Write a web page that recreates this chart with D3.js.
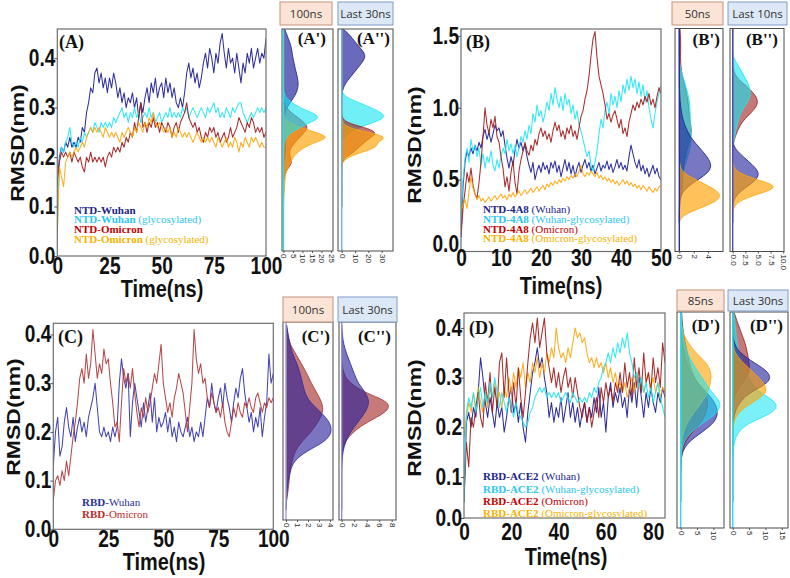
<!DOCTYPE html>
<html><head><meta charset="utf-8">
<script src="https://cdn.jsdelivr.net/npm/d3@7"></script>
<style>body{margin:0;background:#fff}svg{display:block}</style>
</head><body>
<svg id="c" width="790" height="578"></svg>
<script>
// ---------------- DATA ----------------
// Panel A : NTD, 0-100 ns
const timeA = d3.range(0, 101, 1);
const ntdWuhan = [0.14,0.20,0.22,0.21,0.23,0.22,0.24,0.22,0.23,0.22,0.24,0.23,0.26,0.25,0.29,0.31,0.34,0.33,0.37,0.38,0.35,0.37,0.34,0.36,0.33,0.36,0.34,0.37,0.35,0.32,0.34,0.31,0.33,0.30,0.32,0.31,0.33,0.30,0.32,0.28,0.31,0.29,0.32,0.34,0.31,0.35,0.33,0.36,0.32,0.34,0.35,0.32,0.36,0.33,0.35,0.32,0.34,0.31,0.30,0.32,0.30,0.33,0.37,0.39,0.36,0.38,0.35,0.37,0.34,0.36,0.39,0.41,0.38,0.42,0.40,0.37,0.41,0.39,0.43,0.45,0.41,0.38,0.42,0.39,0.40,0.37,0.41,0.38,0.35,0.39,0.37,0.41,0.39,0.42,0.38,0.40,0.42,0.39,0.41,0.40,0.44];
const ntdWuhanGly = [0.05,0.19,0.22,0.21,0.23,0.24,0.26,0.23,0.22,0.23,0.22,0.24,0.23,0.25,0.24,0.25,0.26,0.25,0.27,0.26,0.25,0.27,0.26,0.27,0.26,0.27,0.26,0.28,0.27,0.28,0.29,0.30,0.28,0.29,0.27,0.29,0.28,0.30,0.28,0.29,0.27,0.28,0.29,0.28,0.30,0.28,0.29,0.27,0.28,0.29,0.27,0.28,0.29,0.28,0.30,0.28,0.29,0.28,0.29,0.28,0.30,0.29,0.30,0.28,0.29,0.30,0.29,0.28,0.29,0.30,0.29,0.28,0.30,0.29,0.30,0.31,0.29,0.30,0.28,0.29,0.28,0.30,0.29,0.28,0.30,0.29,0.30,0.31,0.31,0.29,0.28,0.27,0.28,0.29,0.28,0.29,0.30,0.29,0.30,0.29,0.30];
const ntdOmicron = [0.15,0.19,0.21,0.20,0.21,0.20,0.21,0.19,0.21,0.20,0.19,0.20,0.18,0.17,0.20,0.19,0.21,0.19,0.20,0.19,0.20,0.19,0.20,0.18,0.20,0.21,0.20,0.22,0.21,0.22,0.21,0.23,0.22,0.24,0.23,0.25,0.24,0.27,0.25,0.28,0.31,0.26,0.27,0.25,0.27,0.26,0.28,0.26,0.27,0.25,0.27,0.26,0.25,0.27,0.26,0.24,0.26,0.27,0.25,0.27,0.28,0.29,0.31,0.28,0.27,0.26,0.27,0.25,0.26,0.24,0.23,0.25,0.24,0.26,0.25,0.26,0.24,0.25,0.23,0.24,0.25,0.23,0.24,0.26,0.24,0.25,0.26,0.28,0.27,0.26,0.25,0.27,0.26,0.28,0.27,0.25,0.26,0.25,0.26,0.24,0.25];
const ntdOmicronGly = [0.04,0.18,0.16,0.14,0.19,0.20,0.21,0.20,0.21,0.22,0.21,0.22,0.23,0.22,0.24,0.25,0.26,0.25,0.26,0.25,0.26,0.25,0.24,0.26,0.25,0.24,0.25,0.24,0.25,0.24,0.23,0.25,0.24,0.25,0.26,0.25,0.24,0.26,0.25,0.27,0.26,0.25,0.27,0.26,0.28,0.27,0.29,0.27,0.26,0.27,0.26,0.25,0.26,0.25,0.26,0.24,0.25,0.24,0.26,0.25,0.24,0.25,0.24,0.25,0.24,0.23,0.24,0.25,0.24,0.23,0.24,0.23,0.24,0.23,0.24,0.23,0.22,0.24,0.23,0.22,0.23,0.24,0.22,0.23,0.22,0.24,0.23,0.21,0.23,0.22,0.24,0.23,0.22,0.24,0.23,0.24,0.23,0.22,0.23,0.22,0.22];

// Panel B : NTD-4A8, 0-50 ns
const timeB = d3.range(0, 50.25, 0.5);
const n4a8Wuhan = [0.10,0.45,0.62,0.70,0.66,0.72,0.68,0.74,0.70,0.76,0.72,0.80,0.85,0.78,0.83,0.76,0.82,0.88,0.84,0.86,0.80,0.84,0.74,0.65,0.58,0.66,0.60,0.70,0.78,0.72,0.76,0.70,0.74,0.66,0.60,0.55,0.62,0.50,0.56,0.60,0.55,0.62,0.57,0.60,0.54,0.62,0.58,0.63,0.55,0.60,0.52,0.58,0.64,0.56,0.62,0.54,0.60,0.52,0.58,0.62,0.55,0.60,0.64,0.58,0.62,0.56,0.60,0.54,0.58,0.62,0.56,0.60,0.58,0.63,0.57,0.61,0.55,0.59,0.64,0.58,0.62,0.57,0.60,0.56,0.66,0.74,0.68,0.62,0.58,0.64,0.56,0.60,0.54,0.58,0.52,0.56,0.60,0.54,0.58,0.52,0.50];
const n4a8WuhanGly = [0.20,0.50,0.65,0.72,0.62,0.78,0.70,0.74,0.66,0.72,0.60,0.68,0.58,0.66,0.62,0.70,0.60,0.56,0.64,0.58,0.66,0.72,0.68,0.78,0.70,0.75,0.68,0.74,0.66,0.72,0.80,0.76,0.84,0.78,0.88,0.82,0.96,0.90,1.02,0.94,0.98,0.90,0.96,1.04,0.98,1.10,1.02,1.14,1.06,1.00,1.08,0.98,1.10,1.02,1.06,0.96,1.02,0.92,0.98,0.88,0.84,0.78,0.72,0.66,0.70,0.60,0.56,0.62,0.70,0.82,0.92,0.86,0.98,1.04,0.96,1.10,1.02,1.08,1.00,1.12,1.04,1.16,1.10,1.20,1.12,1.22,1.14,1.20,1.10,1.18,1.08,1.16,1.04,1.12,1.00,0.92,0.86,0.96,1.04,1.10,1.16];
const n4a8Omicron = [0.10,0.30,0.42,0.55,0.48,0.58,0.46,0.40,0.37,0.48,0.62,0.80,1.00,0.88,0.82,0.92,0.86,0.94,0.80,0.76,0.66,0.58,0.45,0.52,0.42,0.55,0.63,0.48,0.40,0.56,0.64,0.70,0.76,0.70,0.67,0.74,0.70,0.78,0.74,0.82,0.86,0.80,0.84,0.78,0.82,0.76,0.84,0.90,0.84,0.88,0.80,0.84,0.78,0.86,0.82,0.88,0.80,0.84,0.78,0.86,0.94,0.98,1.06,1.12,1.22,1.36,1.48,1.53,1.35,1.22,1.16,1.10,1.02,0.92,0.96,0.90,0.95,0.98,0.92,0.86,0.92,0.82,0.86,0.80,0.90,0.96,1.02,0.98,1.04,1.00,1.06,1.02,1.08,1.04,1.10,1.02,1.06,1.00,1.08,1.14,1.10];
const n4a8OmicronGly = [0.28,0.32,0.36,0.30,0.42,0.52,0.44,0.40,0.36,0.39,0.35,0.37,0.34,0.36,0.38,0.35,0.37,0.39,0.36,0.38,0.40,0.37,0.39,0.36,0.40,0.38,0.41,0.38,0.40,0.42,0.39,0.41,0.43,0.40,0.42,0.44,0.41,0.43,0.45,0.42,0.44,0.46,0.43,0.47,0.45,0.48,0.46,0.49,0.47,0.50,0.48,0.51,0.49,0.52,0.50,0.53,0.51,0.54,0.52,0.56,0.60,0.54,0.52,0.55,0.53,0.56,0.54,0.52,0.55,0.51,0.53,0.50,0.52,0.49,0.51,0.48,0.50,0.47,0.49,0.46,0.48,0.50,0.47,0.49,0.46,0.48,0.45,0.47,0.44,0.46,0.43,0.46,0.44,0.42,0.45,0.43,0.41,0.44,0.42,0.45,0.46];

// Panel C : RBD, 0-100 ns
const timeC = d3.range(0, 101, 1);
const rbdWuhan = [0.13,0.20,0.23,0.15,0.17,0.22,0.25,0.21,0.19,0.23,0.18,0.21,0.23,0.20,0.22,0.19,0.23,0.25,0.27,0.30,0.25,0.20,0.19,0.21,0.19,0.20,0.18,0.21,0.19,0.21,0.30,0.35,0.31,0.29,0.32,0.19,0.26,0.30,0.27,0.24,0.21,0.26,0.22,0.25,0.28,0.22,0.27,0.20,0.23,0.21,0.22,0.24,0.20,0.23,0.19,0.21,0.18,0.22,0.20,0.19,0.21,0.23,0.19,0.21,0.18,0.20,0.19,0.22,0.19,0.23,0.27,0.25,0.30,0.26,0.24,0.27,0.29,0.25,0.30,0.27,0.25,0.22,0.26,0.29,0.27,0.31,0.33,0.28,0.25,0.22,0.24,0.20,0.23,0.21,0.25,0.19,0.23,0.26,0.36,0.30,0.32];
const rbdOmicron = [0.06,0.10,0.11,0.09,0.12,0.10,0.14,0.11,0.15,0.19,0.22,0.26,0.31,0.33,0.30,0.36,0.31,0.34,0.41,0.36,0.31,0.34,0.32,0.37,0.34,0.35,0.30,0.26,0.21,0.22,0.18,0.26,0.33,0.30,0.32,0.29,0.33,0.28,0.24,0.21,0.25,0.23,0.27,0.24,0.26,0.29,0.32,0.30,0.34,0.38,0.30,0.27,0.24,0.26,0.23,0.27,0.29,0.32,0.30,0.28,0.24,0.20,0.25,0.30,0.41,0.35,0.32,0.34,0.30,0.31,0.27,0.25,0.28,0.26,0.24,0.25,0.23,0.26,0.22,0.20,0.19,0.22,0.25,0.23,0.26,0.24,0.23,0.26,0.25,0.27,0.25,0.24,0.27,0.28,0.26,0.24,0.26,0.25,0.27,0.26,0.27];

// Panel D : RBD-ACE2, 0-85 ns
const timeD = d3.range(0, 86, 1);
const aceWuhan = [0.05,0.21,0.23,0.20,0.24,0.22,0.27,0.34,0.30,0.25,0.22,0.26,0.23,0.20,0.25,0.22,0.24,0.19,0.22,0.26,0.28,0.23,0.25,0.21,0.25,0.20,0.17,0.23,0.27,0.31,0.33,0.36,0.32,0.34,0.30,0.27,0.22,0.25,0.21,0.24,0.22,0.26,0.21,0.24,0.27,0.22,0.25,0.21,0.24,0.20,0.23,0.25,0.21,0.24,0.22,0.26,0.23,0.28,0.22,0.25,0.19,0.26,0.29,0.24,0.27,0.25,0.28,0.24,0.26,0.22,0.28,0.25,0.29,0.24,0.30,0.26,0.22,0.27,0.24,0.28,0.25,0.23,0.27,0.25,0.28,0.26];
const aceWuhanGly = [0.05,0.23,0.26,0.24,0.27,0.23,0.26,0.28,0.24,0.27,0.25,0.29,0.26,0.30,0.27,0.24,0.27,0.25,0.23,0.26,0.24,0.22,0.25,0.23,0.22,0.21,0.20,0.21,0.23,0.24,0.26,0.27,0.28,0.27,0.28,0.26,0.27,0.26,0.27,0.26,0.27,0.25,0.26,0.27,0.26,0.25,0.27,0.26,0.25,0.26,0.25,0.26,0.25,0.27,0.26,0.28,0.27,0.29,0.30,0.32,0.33,0.35,0.33,0.36,0.34,0.37,0.35,0.38,0.36,0.39,0.35,0.33,0.30,0.31,0.28,0.30,0.27,0.29,0.26,0.28,0.25,0.27,0.29,0.26,0.24,0.22];
const aceOmicron = [0.05,0.17,0.12,0.22,0.20,0.24,0.27,0.22,0.20,0.29,0.25,0.31,0.23,0.28,0.24,0.33,0.35,0.26,0.34,0.27,0.23,0.29,0.24,0.32,0.26,0.22,0.27,0.33,0.38,0.41,0.37,0.42,0.36,0.39,0.42,0.35,0.32,0.29,0.32,0.28,0.31,0.27,0.30,0.32,0.28,0.30,0.26,0.30,0.27,0.24,0.22,0.25,0.21,0.24,0.20,0.23,0.26,0.22,0.28,0.25,0.29,0.26,0.28,0.25,0.29,0.27,0.31,0.27,0.33,0.28,0.31,0.26,0.34,0.28,0.32,0.27,0.35,0.29,0.31,0.27,0.34,0.29,0.32,0.28,0.37,0.33];
const aceOmicronGly = [0.18,0.22,0.25,0.23,0.27,0.24,0.28,0.25,0.23,0.27,0.24,0.28,0.26,0.29,0.25,0.27,0.24,0.28,0.26,0.30,0.27,0.31,0.28,0.32,0.30,0.33,0.28,0.31,0.29,0.33,0.31,0.34,0.30,0.33,0.31,0.35,0.33,0.36,0.34,0.40,0.36,0.34,0.35,0.33,0.36,0.34,0.37,0.40,0.38,0.39,0.37,0.38,0.35,0.33,0.34,0.32,0.34,0.32,0.33,0.31,0.33,0.30,0.32,0.29,0.31,0.28,0.29,0.27,0.29,0.26,0.28,0.30,0.27,0.31,0.28,0.30,0.27,0.29,0.31,0.28,0.30,0.27,0.29,0.26,0.28,0.27];

// Density distributions (RMSD grid -> density)
const gridA = [0.10,0.11,0.12,0.13,0.14,0.15,0.16,0.17,0.18,0.19,0.20,0.21,0.22,0.23,0.24,0.25,0.26,0.27,0.28,0.29,0.30,0.31,0.32,0.33,0.34,0.35,0.36,0.37,0.38,0.39,0.40,0.41,0.42,0.43,0.44,0.45,0.46];
const aFullWuhan = [0,0,0,0,0,0,0,0,0.05,0.2,0.6,1.0,1.2,0.9,0.6,0.4,0.3,0.3,0.4,0.8,1.8,3.5,5.3,6.8,7.6,7.8,7.4,6.8,6.1,5.6,5.0,4.6,4.2,3.5,2.5,1.5,0.5];
const aFullWuhanGly = [0,0,0,0,0,0,0,0,0,0,0,0,0.2,0.5,1.5,4.0,9,14,19.8,15,8.5,4.5,1.2,0.2,0,0,0,0,0,0,0,0,0,0,0,0,0];
const aFullOmicron = [0,0,0,0,0,0.1,0.4,1.0,3.0,4.5,3.5,3.0,4.0,6.0,8.5,11,13,11,7.5,4.0,1.5,0.3,0,0,0,0,0,0,0,0,0,0,0,0,0,0,0];
const aFullOmicronGly = [0,0,0.1,0.4,0.6,0.7,0.9,1.4,2.5,3.8,5.0,7.5,11,17,24.5,17,9,3,0.3,0,0,0,0,0,0,0,0,0,0,0,0,0,0,0,0,0,0];
const aLastWuhan = [0,0,0,0,0,0,0,0,0,0,0,0,0,0,0,0,0,0,0,0,0,0,0,0.3,1.2,3,6,9,12,15,17.5,17.3,14,11,8,5,0.5];
const aLastWuhanGly = [0,0,0,0,0,0,0,0,0,0,0,0,0,0.4,2,6,13,24,33,30,22,13,4,0.2,0,0,0,0,0,0,0,0,0,0,0,0,0];
const aLastOmicron = [0,0,0,0,0,0,0,0,0,0.4,3,9,13,17,22,27,17,3,0.3,0,0,0,0,0,0,0,0,0,0,0,0,0,0,0,0,0,0];
const aLastOmicronGly = [0,0,0,0,0,0,0,0,0,0.5,5,15,27,26,35,20,4,0.5,0,0,0,0,0,0,0,0,0,0,0,0,0,0,0,0,0,0,0];

const gridB = [0.20,0.25,0.30,0.35,0.40,0.45,0.50,0.55,0.60,0.65,0.70,0.75,0.80,0.85,0.90,0.95,1.00,1.05,1.10,1.15,1.20,1.25,1.30,1.35,1.40,1.45,1.50,1.55];
const bFullWuhan = [0,0,0,0.05,0.3,1.1,2.6,4.1,4.5,4.0,3.2,2.3,1.5,1.0,0.6,0.35,0.2,0.1,0.05,0,0,0,0,0,0,0,0,0];
const bFullWuhanGly = [0,0,0,0,0.05,0.15,0.3,0.5,0.8,1.1,1.4,1.6,1.7,1.6,1.55,1.5,1.5,1.4,1.2,0.9,0.6,0.3,0.05,0,0,0,0,0];
const bFullOmicron = [0,0,0.02,0.1,0.3,0.4,0.45,0.5,0.6,0.8,1.0,1.3,1.6,1.7,1.5,1.4,1.3,1.2,1.0,0.8,0.5,0.3,0.2,0.15,0.2,0.2,0.15,0.1];
const bFullOmicronGly = [0,0.3,2.8,5.3,5.9,4.3,2.3,0.4,0.05,0,0,0,0,0,0,0,0,0,0,0,0,0,0,0,0,0,0,0];
const bLastWuhan = [0,0,0,0.1,0.9,2.8,4.8,5.3,4.0,2.4,0.8,0,0,0,0,0,0,0,0,0,0,0,0,0,0,0,0,0];
const bLastWuhanGly = [0,0,0,0,0,0,0,0,0,0,0,0.1,0.4,0.7,1.0,1.4,2.2,3.2,3.6,3.3,2.6,1.8,1.0,0.1,0,0,0,0];
const bLastOmicron = [0,0,0,0,0,0,0,0,0,0,0,0.1,0.5,1.1,1.8,3.2,4.6,5.1,4.2,2.8,1.0,0.2,0,0,0,0,0,0];
const bLastOmicronGly = [0,0,0.1,1.0,5.0,9.6,4.8,0.8,0.05,0,0,0,0,0,0,0,0,0,0,0,0,0,0,0,0,0,0,0];

const gridC = [0.04,0.06,0.08,0.10,0.12,0.14,0.16,0.18,0.20,0.22,0.24,0.26,0.28,0.30,0.32,0.34,0.36,0.38,0.40,0.42];
const cFullWuhan = [0,0.05,0.1,0.2,0.4,0.7,1.8,3.6,4.2,4.0,3.2,2.2,1.7,1.5,1.3,1.0,0.6,0.35,0.2,0.05];
const cFullOmicron = [0,0.05,0.2,0.3,0.35,0.55,0.8,1.4,2.3,2.9,3.4,3.3,2.8,2.3,1.9,1.4,0.9,0.35,0.15,0.05];
const cLastWuhan = [0,0,0,0,0,0.05,0.2,0.6,1.4,2.6,3.8,4.5,3.9,2.6,2.0,1.4,0.8,0.3,0.1,0];
const cLastOmicron = [0,0,0,0,0,0,0.1,0.5,1.8,4.0,7.2,8.0,3.8,1.2,0.3,0,0,0,0,0];

const gridD = [0.05,0.07,0.09,0.11,0.13,0.15,0.17,0.19,0.21,0.23,0.25,0.27,0.29,0.31,0.33,0.35,0.37,0.39,0.41,0.43];
const dFullWuhan = [0,0,0,0,0.05,0.4,2.2,6.5,10.5,11.5,10.5,8.0,5.0,3.0,1.8,1.0,0.5,0.2,0.1,0];
const dFullWuhanGly = [0,0,0,0,0.05,0.2,0.8,3,7,11.5,12.5,9.5,7.5,5.5,3.5,2.0,1.1,0.6,0.3,0.1];
const dFullOmicron = [0,0,0,0,0.1,0.4,1.2,3.5,6.5,7.8,8.5,7.5,5.0,3.5,2.6,2.0,1.4,0.8,0.5,0.3];
const dFullOmicronGly = [0,0,0,0,0,0.1,0.3,0.8,2.0,4.0,6.5,8.3,9.2,9.4,8.0,4.5,2.3,0.6,0.1,0];
const dLastWuhan = [0,0,0,0,0,0,0,0,0.1,0.6,2,5,11.5,11.5,6.5,2,0.3,0,0,0];
const dLastWuhanGly = [0,0,0,0,0,0.1,0.4,1.5,5,13,14,8,5.5,4.0,2.8,2.0,1.3,1.0,0.7,0.3];
const dLastOmicron = [0,0,0,0,0,0,0,0,0,0,0.2,0.8,3.0,5.2,5.0,4.5,3.8,2.6,1.5,0.5];
const dLastOmicronGly = [0,0,0,0,0,0,0,0,0.3,1.5,6,11,9.5,6.5,3,0.5,0,0,0,0];

// ---------------- DRAWING ----------------
const svg = d3.select("#c");
const SANS = "'Liberation Sans', Arial, sans-serif";
const SERIF = "'Liberation Serif', 'Times New Roman', serif";
const SX = 0.83;
const COL = {navy:"#1e1e94", cyan:"#1fe6f4", red:"#a11b1b", orange:"#ffa60d"};
const FILL = {navy:"#24249c", cyan:"#10e4f2", red:"#9c1e1e", orange:"#ffa000"};

function mainPanel(p) {
  const x = d3.scaleLinear().domain(p.xd).range([p.x0, p.x1]);
  const y = d3.scaleLinear().domain(p.yd).range([p.y1, p.y0]);
  const cid = "clip" + p.name;
  svg.append("clipPath").attr("id", cid).append("rect")
    .attr("x", p.x0).attr("y", p.y0).attr("width", p.x1 - p.x0).attr("height", p.y1 - p.y0);
  const g = svg.append("g").attr("clip-path", `url(#${cid})`);
  p.series.forEach(s => {
    g.append("path").datum(s.v).attr("fill", "none").attr("stroke", s.c)
      .attr("stroke-width", 1.05).attr("stroke-opacity", 0.92).attr("stroke-linejoin", "round")
      .attr("d", d3.line().x((d, i) => x(s.t[i])).y(d => y(d)));
  });
  svg.append("rect").attr("x", p.x0).attr("y", p.y0).attr("width", p.x1 - p.x0).attr("height", p.y1 - p.y0)
    .attr("fill", "none").attr("stroke", "#6e6e6e").attr("stroke-width", 1.2);
  const ya = svg.append("g").attr("transform", `translate(${p.x0},0)`)
    .call(d3.axisLeft(y).tickValues(p.yt).tickFormat(p.yf || d3.format(".1f")).tickSize(3));
  ya.select(".domain").remove();
  ya.selectAll("line").attr("stroke", "#555");
  ya.selectAll("text").attr("x", 0)
    .attr("transform", (d, i) => `translate(-2,${i === 0 ? (p.y0shift || 0) : 0}) scale(${SX},1)`)
    .style("font-family", SANS).style("font-size", "23px").style("font-weight", "bold").attr("fill", "#111");
  const xa = svg.append("g").attr("transform", `translate(0,${p.y1})`)
    .call(d3.axisBottom(x).tickValues(p.xt).tickSize(0));
  xa.select(".domain").remove();
  xa.selectAll("text").attr("y", 0).attr("dy", null)
    .attr("transform", `translate(0,${p.xlb - p.y1}) scale(${SX},1)`)
    .style("font-family", SANS).style("font-size", "23px").style("font-weight", "bold").attr("fill", "#111");
  svg.append("text").attr("transform", `translate(${p.ytx},${p.yty}) scale(${SX},1) rotate(-90)`)
    .attr("text-anchor", "middle").attr("dy", "0.36em")
    .style("font-family", SANS).style("font-size", "23px").style("font-weight", "bold").attr("fill", "#111")
    .text("RMSD(nm)");
  svg.append("text").attr("transform", `translate(${p.xtx},${p.xty}) scale(${SX},1)`)
    .attr("text-anchor", "middle")
    .style("font-family", SANS).style("font-size", "24px").style("font-weight", "bold").attr("fill", "#111")
    .text("Time(ns)");
  svg.append("text").attr("x", p.lx).attr("y", p.ly)
    .style("font-family", SERIF).style("font-size", "18px").style("font-weight", "bold").attr("fill", "#111")
    .text(p.label);
  p.legend.forEach((L, i) => {
    const t = svg.append("text").attr("x", p.legX).attr("y", p.legY[i])
      .style("font-family", SERIF).style("font-size", "11px").attr("fill", L.c);
    t.append("tspan").style("font-weight", "bold").text(L.b);
    if (L.n) t.append("tspan").text(L.n);
  });
  return y;
}

function densPanel(p, y) {
  const x = d3.scaleLinear().domain(p.xd).range([p.x0, p.x1]);
  const cid = "clip" + p.name;
  svg.append("clipPath").attr("id", cid).append("rect")
    .attr("x", p.x0).attr("y", p.y0).attr("width", p.x1 - p.x0).attr("height", p.y1 - p.y0);
  const g = svg.append("g").attr("clip-path", `url(#${cid})`);
  const area = d3.area().curve(d3.curveBasis).y(d => y(d[0])).x0(x(0)).x1(d => x(d[1]));
  const line = d3.line().curve(d3.curveBasis).y(d => y(d[0])).x(d => x(d[1]));
  p.series.forEach(s => {
    const pts = p.grid.map((r, i) => [r, s.d[i]]);
    g.append("path").datum(pts).attr("d", area).attr("fill", s.f).attr("fill-opacity", s.o);
    g.append("path").datum(pts).attr("d", line).attr("fill", "none").attr("stroke", s.c)
      .attr("stroke-width", 0.9).attr("stroke-opacity", 0.9);
  });
  g.append("line").attr("x1", x(0)).attr("x2", x(0)).attr("y1", p.y0).attr("y2", p.y1)
    .attr("stroke", p.zc).attr("stroke-width", 1.4);
  svg.append("rect").attr("x", p.x0).attr("y", p.y0).attr("width", p.x1 - p.x0).attr("height", p.y1 - p.y0)
    .attr("fill", "none").attr("stroke", "#4a4a4a").attr("stroke-width", 1);
  const xa = svg.append("g").attr("transform", `translate(0,${p.y1})`)
    .call(d3.axisBottom(x).tickValues(p.xt).tickFormat(p.xf || d3.format("d")).tickSize(2));
  xa.select(".domain").remove();
  xa.selectAll("line").attr("stroke", "#555");
  xa.selectAll("text").attr("y", 0).attr("dy", "0.32em").attr("transform", "translate(0,3) rotate(90)")
    .attr("text-anchor", "start")
    .style("font-family", SANS).style("font-size", "8px").attr("fill", "#222");
  // header box
  const h = p.head;
  svg.append("rect").attr("x", h.x0).attr("y", h.y0).attr("width", h.x1 - h.x0).attr("height", h.y1 - h.y0)
    .attr("fill", h.fill).attr("stroke", h.stroke).attr("stroke-width", 1);
  svg.append("text").attr("x", (h.x0 + h.x1) / 2).attr("y", (h.y0 + h.y1) / 2).attr("dy", "0.36em")
    .attr("text-anchor", "middle").style("font-family", "'Open Sans', sans-serif").style("font-size", "11.5px")
    .attr("fill", "#333").text(h.text);
  svg.append("text").attr("x", p.lx).attr("y", p.ly).attr("text-anchor", "end")
    .style("font-family", SERIF).style("font-size", "17px").style("font-weight", "bold").attr("fill", "#111")
    .text(p.label);
}

const PINK = {fill: "#fbe4d6", stroke: "#c4917c"};
const BLUE = {fill: "#dce8f5", stroke: "#7f9cc9"};
const ser = (d, k, o) => ({d: d, c: COL[k], f: FILL[k], o: o});

// ---- Panel A ----
const yA = mainPanel({
  name: "A", x0: 57.3, x1: 266, y0: 29, y1: 256, xd: [0, 100], yd: [0, 0.459],
  xt: [0, 25, 50, 75, 100], yt: [0, 0.1, 0.2, 0.3, 0.4], xlb: 274,
  ytx: 17, yty: 143, xtx: 162, xty: 297, label: "(A)", lx: 59, ly: 48,
  series: [
    {t: timeA, v: ntdWuhan, c: COL.navy}, {t: timeA, v: ntdWuhanGly, c: COL.cyan},
    {t: timeA, v: ntdOmicron, c: COL.red}, {t: timeA, v: ntdOmicronGly, c: COL.orange}],
  legX: 74, legY: [213.5, 223, 233, 242.5],
  legend: [{b: "NTD-Wuhan", n: "", c: "#1c2585"}, {b: "NTD-Wuhan", n: " (glycosylated)", c: "#2cc6f2"},
           {b: "NTD-Omicron", n: "", c: "#c40000"}, {b: "NTD-Omicron", n: " (glycosylated)", c: "#f7b300"}]
});
densPanel({name: "A1", x0: 282, x1: 333, y0: 29, y1: 251, xd: [-0.8, 26.1], xt: [0, 5, 10, 15, 20, 25],
  grid: gridA, zc: "#22e0f0", label: "(A')", lx: 326, ly: 44,
  head: Object.assign({x0: 280, x1: 332, y0: 2, y1: 25, text: "100ns"}, PINK),
  series: [ser(aFullWuhan, "navy", 0.68), ser(aFullOmicron, "red", 0.62), ser(aFullOmicronGly, "orange", 0.65), ser(aFullWuhanGly, "cyan", 0.6)]}, yA);
densPanel({name: "A2", x0: 338, x1: 393, y0: 29, y1: 251, xd: [-2.8, 38.5], xt: [0, 10, 20, 30],
  grid: gridA, zc: "#5fb8f0", label: "(A'')", lx: 390, ly: 44,
  head: Object.assign({x0: 338, x1: 393, y0: 2, y1: 25, text: "Last 30ns"}, BLUE),
  series: [ser(aLastWuhan, "navy", 0.68), ser(aLastWuhanGly, "cyan", 0.6), ser(aLastOmicron, "red", 0.62), ser(aLastOmicronGly, "orange", 0.65)]}, yA);

// ---- Panel B ----
const yB = mainPanel({
  name: "B", x0: 461, x1: 661, y0: 29, y1: 251.5, xd: [0, 50], yd: [0, 1.548],
  xt: [0, 10, 20, 30, 40, 50], yt: [0, 0.5, 1.0, 1.5], xlb: 266, y0shift: -7,
  ytx: 414, yty: 145, xtx: 561, xty: 294, label: "(B)", lx: 466, ly: 48,
  series: [
    {t: timeB, v: n4a8Wuhan, c: COL.navy}, {t: timeB, v: n4a8WuhanGly, c: COL.cyan},
    {t: timeB, v: n4a8Omicron, c: COL.red}, {t: timeB, v: n4a8OmicronGly, c: COL.orange}],
  legX: 483, legY: [213, 222.7, 232.5, 242.3],
  legend: [{b: "NTD-4A8", n: " (Wuhan)", c: "#1c2585"}, {b: "NTD-4A8", n: " (Wuhan-glycosylated)", c: "#2cc6f2"},
           {b: "NTD-4A8", n: " (Omicron)", c: "#c40000"}, {b: "NTD-4A8", n: " (Omicron-glycosylated)", c: "#f7b300"}]
});
densPanel({name: "B1", x0: 675, x1: 723, y0: 28.5, y1: 251.5, xd: [-0.6, 6.07], xt: [0, 2, 4],
  grid: gridB, zc: "#2a2aa8", label: "(B')", lx: 720, ly: 45,
  head: Object.assign({x0: 672, x1: 723, y0: 2, y1: 25, text: "50ns"}, PINK),
  series: [ser(bFullOmicron, "red", 0.6), ser(bFullWuhanGly, "cyan", 0.6), ser(bFullWuhan, "navy", 0.62), ser(bFullOmicronGly, "orange", 0.65)]}, yB);
densPanel({name: "B2", x0: 730, x1: 784, y0: 28.5, y1: 251.5, xd: [-0.53, 10.16], xt: [0, 2.5, 5, 7.5, 10], xf: d3.format(".1f"),
  grid: gridB, zc: "#4a4ab8", label: "(B'')", lx: 778, ly: 45,
  head: Object.assign({x0: 728, x1: 787, y0: 2, y1: 25, text: "Last 10ns"}, BLUE),
  series: [ser(bLastOmicron, "red", 0.6), ser(bLastWuhanGly, "cyan", 0.6), ser(bLastWuhan, "navy", 0.62), ser(bLastOmicronGly, "orange", 0.65)]}, yB);

// ---- Panel C ----
const yC = mainPanel({
  name: "C", x0: 53.3, x1: 273.3, y0: 323.3, y1: 529.3, xd: [0, 100], yd: [0, 0.423],
  xt: [0, 25, 50, 75, 100], yt: [0, 0.1, 0.2, 0.3, 0.4], xlb: 546.5,
  ytx: 13, yty: 417, xtx: 164, xty: 570, label: "(C)", lx: 58, ly: 343,
  series: [{t: timeC, v: rbdWuhan, c: "#3434b0"}, {t: timeC, v: rbdOmicron, c: "#b23a3a"}],
  legX: 82, legY: [506, 518],
  legend: [{b: "RBD", n: "-Wuhan", c: "#2a2f95"}, {b: "RBD", n: "-Omicron", c: "#c02828"}]
});
const CF = {navy: "#2a1f9a", red: "#a83232"};
densPanel({name: "C1", x0: 283, x1: 333, y0: 322, y1: 520, xd: [-0.27, 4.27], xt: [0, 1, 2, 3, 4],
  grid: gridC, zc: "#a0a0dc", label: "(C')", lx: 330, ly: 342,
  head: Object.assign({x0: 283, x1: 333, y0: 297, y1: 322, text: "100ns"}, PINK),
  series: [{d: cFullOmicron, c: "#a83232", f: CF.red, o: 0.65}, {d: cFullWuhan, c: "#2a2aa8", f: CF.navy, o: 0.62}]}, yC);
densPanel({name: "C2", x0: 339, x1: 396, y0: 322, y1: 520, xd: [-0.43, 8.69], xt: [0, 2, 4, 6, 8],
  grid: gridC, zc: "#9090d8", label: "(C'')", lx: 391, ly: 342,
  head: Object.assign({x0: 338, x1: 397, y0: 297, y1: 322, text: "Last 30ns"}, BLUE),
  series: [{d: cLastOmicron, c: "#a83232", f: CF.red, o: 0.65}, {d: cLastWuhan, c: "#2a2aa8", f: CF.navy, o: 0.62}]}, yC);

// ---- Panel D ----
const yD = mainPanel({
  name: "D", x0: 464, x1: 665, y0: 313, y1: 518, xd: [0, 85], yd: [0.0175, 0.43],
  xt: [0, 20, 40, 60, 80], yt: [0.0175, 0.1, 0.2, 0.3, 0.4], yf: d => d < 0.05 ? "0.0" : d3.format(".1f")(d), xlb: 540,
  ytx: 414, yty: 418, xtx: 566, xty: 565, label: "(D)", lx: 469, ly: 334,
  series: [
    {t: timeD, v: aceWuhan, c: COL.navy}, {t: timeD, v: aceOmicronGly, c: COL.orange},
    {t: timeD, v: aceOmicron, c: COL.red}, {t: timeD, v: aceWuhanGly, c: COL.cyan}],
  legX: 483, legY: [480, 492.5, 505, 516.7],
  legend: [{b: "RBD-ACE2", n: " (Wuhan)", c: "#1c2585"}, {b: "RBD-ACE2", n: " (Wuhan-glycosylated)", c: "#2cc6f2"},
           {b: "RBD-ACE2", n: " (Omicron)", c: "#c40000"}, {b: "RBD-ACE2", n: " (Omicron-glycosylated)", c: "#f7b300"}]
});
densPanel({name: "D1", x0: 677, x1: 724, y0: 312, y1: 528, xd: [-1.13, 13.24], xt: [0, 5, 10],
  grid: gridD, zc: "#22e0f0", label: "(D')", lx: 720, ly: 331,
  head: Object.assign({x0: 677, x1: 724, y0: 290, y1: 311, text: "85ns"}, PINK),
  series: [ser(dFullWuhan, "navy", 0.62), ser(dFullOmicron, "red", 0.6), ser(dFullOmicronGly, "orange", 0.6), ser(dFullWuhanGly, "cyan", 0.55)]}, yD);
densPanel({name: "D2", x0: 730, x1: 788, y0: 312, y1: 528, xd: [-0.83, 16.9], xt: [0, 5, 10, 15],
  grid: gridD, zc: "#22e0f0", label: "(D'')", lx: 783, ly: 331,
  head: Object.assign({x0: 728, x1: 788, y0: 290, y1: 311, text: "Last 30ns"}, BLUE),
  series: [ser(dLastOmicron, "red", 0.6), ser(dLastWuhanGly, "cyan", 0.55), ser(dLastWuhan, "navy", 0.62), ser(dLastOmicronGly, "orange", 0.6)]}, yD);
</script>
</body></html>
